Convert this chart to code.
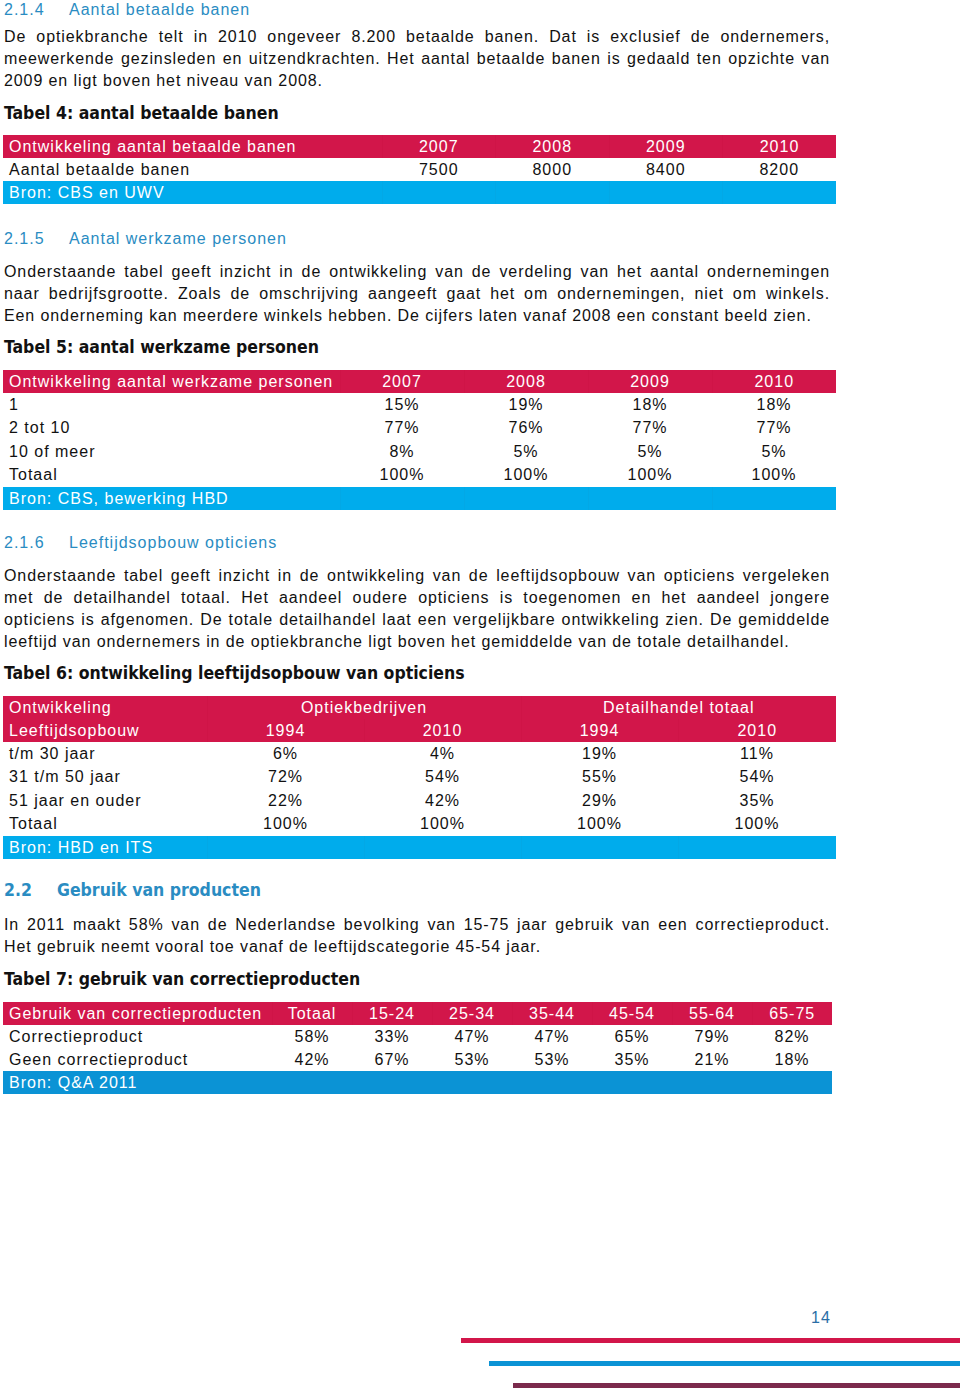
<!DOCTYPE html>
<html lang="nl">
<head>
<meta charset="UTF-8">
<title>Aantal betaalde banen</title>
<script src="https://cdn.jsdelivr.net/npm/chart.js"></script>
<style>
    html, body { margin: 0; padding: 0; background: #fff; }
    body {
        width: 960px;
        height: 1394px;
        position: relative;
        overflow: hidden;
        font-family: 'Liberation Sans', Arial, sans-serif;
        font-size: 16px;
        color: #111;
        letter-spacing: 1px;
    }
    .blk { position: absolute; left: 4px; line-height: 22px; white-space: nowrap; }
    .sub { color: #2a8cc2; }
    .sub .t { position: absolute; left: 65px; }
    .par { width: 826px; letter-spacing: 0.9px; }
    .par div { text-align: justify; text-align-last: justify; white-space: normal; }
    .par div.last { text-align-last: left; }
    .ttl { font-family: 'DejaVu Sans Condensed', 'DejaVu Sans', Verdana, sans-serif; font-weight: bold; font-size: 17.5px; letter-spacing: 0; }
    .h2 { font-family: 'DejaVu Sans Condensed', 'DejaVu Sans', Verdana, sans-serif; font-weight: bold; font-size: 17.5px; color: #2a8cc2; letter-spacing: 0; }
    .h2 .t { position: absolute; left: 53px; }
    table.tb { position: absolute; left: 3px; border-collapse: collapse; table-layout: fixed; }
    table.tb td { padding: 0; white-space: nowrap; text-align: center; overflow: hidden; }
    table.tb td.lab { text-align: left; padding-left: 6px; }
    table.tb tr.hd td { background: #d2164a; color: #fff; border-right: 1px solid #cf1447; }
    table.tb tr.src td { background: #00acec; color: #fff; border-right: 1px solid #03a8e6; }
    table.tb.t7 tr.src td { background: #0b93d5; border-right-color: #0b93d5; }
    table.tb tr td:last-child { border-right: none; }
    .pn { position: absolute; left: 811px; top: 1307px; line-height: 22px; color: #2a6ea6; }
    .bar { position: absolute; right: 0; height: 5px; }
</style>
</head>
<body>

<div class="blk sub" style="top:-1px">2.1.4<span class="t">Aantal betaalde banen</span></div>
<div class="blk par" style="top:26px">
    <div>De optiekbranche telt in 2010 ongeveer 8.200 betaalde banen. Dat is exclusief de ondernemers,</div>
    <div>meewerkende gezinsleden en uitzendkrachten. Het aantal betaalde banen is gedaald ten opzichte van</div>
    <div class="last">2009 en ligt boven het niveau van 2008.</div>
</div>
<div class="blk ttl" style="top:102px">Tabel 4: aantal betaalde banen</div>
<table class="tb" id="tabel4" style="top:135px"></table>

<div class="blk sub" style="top:228px">2.1.5<span class="t">Aantal werkzame personen</span></div>
<div class="blk par" style="top:261px">
    <div>Onderstaande tabel geeft inzicht in de ontwikkeling van de verdeling van het aantal ondernemingen</div>
    <div>naar bedrijfsgrootte. Zoals de omschrijving aangeeft gaat het om ondernemingen, niet om winkels.</div>
    <div class="last">Een onderneming kan meerdere winkels hebben. De cijfers laten vanaf 2008 een constant beeld zien.</div>
</div>
<div class="blk ttl" style="top:336px">Tabel 5: aantal werkzame personen</div>
<table class="tb" id="tabel5" style="top:370px"></table>

<div class="blk sub" style="top:532px">2.1.6<span class="t">Leeftijdsopbouw opticiens</span></div>
<div class="blk par" style="top:565px">
    <div>Onderstaande tabel geeft inzicht in de ontwikkeling van de leeftijdsopbouw van opticiens vergeleken</div>
    <div>met de detailhandel totaal. Het aandeel oudere opticiens is toegenomen en het aandeel jongere</div>
    <div>opticiens is afgenomen. De totale detailhandel laat een vergelijkbare ontwikkeling zien. De gemiddelde</div>
    <div class="last">leeftijd van ondernemers in de optiekbranche ligt boven het gemiddelde van de totale detailhandel.</div>
</div>
<div class="blk ttl" style="top:662px">Tabel 6: ontwikkeling leeftijdsopbouw van opticiens</div>
<table class="tb" id="tabel6" style="top:696px"></table>

<div class="blk h2" style="top:879px">2.2<span class="t">Gebruik van producten</span></div>
<div class="blk par" style="top:914px">
    <div>In 2011 maakt 58% van de Nederlandse bevolking van 15-75 jaar gebruik van een correctieproduct.</div>
    <div class="last">Het gebruik neemt vooral toe vanaf de leeftijdscategorie 45-54 jaar.</div>
</div>
<div class="blk ttl" style="top:968px">Tabel 7: gebruik van correctieproducten</div>
<table class="tb t7" id="tabel7" style="top:1002px"></table>

<div class="pn">14</div>
<div class="bar" style="left:461px; top:1338px; background:#d2164a"></div>
<div class="bar" style="left:489px; top:1361px; background:#0b93d5"></div>
<div class="bar" style="left:513px; top:1383px; background:#7b2a4c"></div>

<script>
// Tabel 4
var jaren4 = ['2007', '2008', '2009', '2010'];
var betaaldeBanen = [7500, 8000, 8400, 8200];

// Tabel 5
var jaren5 = ['2007', '2008', '2009', '2010'];
var grootteKlassen = ['1', '2 tot 10', '10 of meer', 'Totaal'];
var pers2007 = [15, 77, 8, 100];
var pers2008 = [19, 76, 5, 100];
var pers2009 = [18, 77, 5, 100];
var pers2010 = [18, 77, 5, 100];

// Tabel 6
var leeftijden = ['t/m 30 jaar', '31 t/m 50 jaar', '51 jaar en ouder', 'Totaal'];
var groepen6 = ['Optiekbedrijven', 'Detailhandel totaal'];
var jaren6 = ['1994', '2010'];
var optiek1994 = [6, 72, 22, 100];
var optiek2010 = [4, 54, 42, 100];
var detail1994 = [19, 55, 29, 100];
var detail2010 = [11, 54, 35, 100];

// Tabel 7
var leeftijdsgroepen = ['Totaal', '15-24', '25-34', '35-44', '45-54', '55-64', '65-75'];
var metCorrectie = [58, 33, 47, 47, 65, 79, 82];
var zonderCorrectie = [42, 67, 53, 53, 35, 21, 18];

function pct(v) { return v + '%'; }

// rows: [{cls, h, cells:[[text, colspan]]}]
function buildTable(id, widths, rows) {
    var t = document.getElementById(id);
    var cg = document.createElement('colgroup');
    var total = 0;
    widths.forEach(function (w) {
        var c = document.createElement('col');
        c.style.width = w + 'px';
        cg.appendChild(c);
        total += w;
    });
    t.appendChild(cg);
    t.style.width = total + 'px';
    rows.forEach(function (r) {
        var tr = document.createElement('tr');
        if (r.cls) tr.className = r.cls;
        tr.style.height = r.h + 'px';
        r.cells.forEach(function (c, i) {
            var td = document.createElement('td');
            td.textContent = c[0];
            if (c[1] > 1) td.colSpan = c[1];
            if (i === 0) td.className = 'lab';
            tr.appendChild(td);
        });
        t.appendChild(tr);
    });
}

function cellsOf(label, values, fmt) {
    return [[label, 1]].concat(values.map(function (v) { return [fmt ? fmt(v) : String(v), 1]; }));
}

function emptySrc(label, n) {
    var c = [[label, 1]];
    for (var i = 0; i < n; i++) c.push(['', 1]);
    return c;
}

buildTable('tabel4', [379, 113.5, 113.5, 113.5, 113.5], [
    { cls: 'hd', h: 23, cells: cellsOf('Ontwikkeling aantal betaalde banen', jaren4) },
    { h: 23, cells: cellsOf('Aantal betaalde banen', betaaldeBanen) },
    { cls: 'src', h: 23, cells: emptySrc('Bron: CBS en UWV', 4) }
]);

var rows5 = [{ cls: 'hd', h: 23, cells: cellsOf('Ontwikkeling aantal werkzame personen', jaren5) }];
grootteKlassen.forEach(function (k, i) {
    rows5.push({ h: 23.5, cells: cellsOf(k, [pers2007[i], pers2008[i], pers2009[i], pers2010[i]], pct) });
});
rows5.push({ cls: 'src', h: 23, cells: emptySrc('Bron: CBS, bewerking HBD', 4) });
buildTable('tabel5', [337, 124, 124, 124, 124], rows5);

var rows6 = [
    { cls: 'hd', h: 23, cells: [['Ontwikkeling', 1], [groepen6[0], 2], [groepen6[1], 2]] },
    { cls: 'hd', h: 23, cells: cellsOf('Leeftijdsopbouw', jaren6.concat(jaren6)) }
];
leeftijden.forEach(function (l, i) {
    rows6.push({ h: 23.5, cells: cellsOf(l, [optiek1994[i], optiek2010[i], detail1994[i], detail2010[i]], pct) });
});
rows6.push({ cls: 'src', h: 23, cells: emptySrc('Bron: HBD en ITS', 4) });
buildTable('tabel6', [204, 157, 157, 157, 158], rows6);

buildTable('tabel7', [269, 80, 80, 80, 80, 80, 80, 80], [
    { cls: 'hd', h: 23, cells: cellsOf('Gebruik van correctieproducten', leeftijdsgroepen) },
    { h: 23, cells: cellsOf('Correctieproduct', metCorrectie, pct) },
    { h: 23, cells: cellsOf('Geen correctieproduct', zonderCorrectie, pct) },
    { cls: 'src', h: 23, cells: emptySrc('Bron: Q&A 2011', 7) }
]);
</script>
</body>
</html>
